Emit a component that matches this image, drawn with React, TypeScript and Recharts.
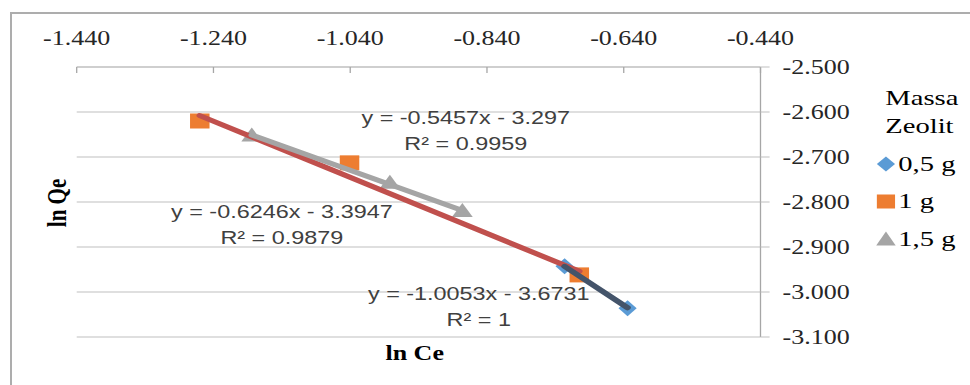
import React from 'react';
import { ScatterChart, Scatter, XAxis, YAxis, CartesianGrid, Legend, ReferenceDot, Customized } from 'recharts';

// ln Ce / ln Qe per zeolite mass
const ceHalf = [-0.7265, -0.6344];
const qeHalf = [-2.943, -3.036];
const ceOne = [-1.26, -1.041, -0.705];
const qeOne = [-2.62, -2.713, -2.962];
const ceOneHalf = [-1.184, -0.982, -0.876];
const qeOneHalf = [-2.652, -2.757, -2.82];

// trendline end points
const trendHalfX = [-0.7265, -0.6344];
const trendHalfY = [-2.943, -3.035];
const trendOneX = [-1.26, -0.705];
const trendOneY = [-2.608, -2.954];
const trendOneHalfX = [-1.184, -0.876];
const trendOneHalfY = [-2.651, -2.819];

const xTicks = [-1.44, -1.24, -1.04, -0.84, -0.64, -0.44];
const yTicks = [-3.1, -3.0, -2.9, -2.8, -2.7, -2.6, -2.5];
const seriesNames = ['0,5 g', '1 g', '1,5 g'];
const eqLines = [
  ['y = -0.5457x - 3.297', 'R² = 0.9959'],
  ['y = -0.6246x - 3.3947', 'R² = 0.9879'],
  ['y = -1.0053x - 3.6731', 'R² = 1'],
];
const eqAtX = [-0.871, -1.14, -0.852];
const eqAtY = [-2.613, -2.822, -3.004];

// the source picture is stretched sideways, so draw narrow and scale up
const STRETCH = 1.3;
const W = 746;
const H = 385;
const SERIF = "'Liberation Serif', 'Times New Roman', serif";
const SANS = "'Liberation Sans', Arial, sans-serif";

const BLUE = '#5B9BD5';
const ORANGE = '#ED7D31';
const GRAY = '#A5A5A5';

const zip = (xs: number[], ys: number[]) => xs.map((x, i) => ({ x, y: ys[i] }));

const Diamond = (p: any) => (
  <polygon points={`${p.cx},${p.cy - 8} ${p.cx + 7},${p.cy} ${p.cx},${p.cy + 8} ${p.cx - 7},${p.cy}`} fill={BLUE} />
);
const Square = (p: any) => <rect x={p.cx - 7.5} y={p.cy - 7.5} width={15} height={15} fill={ORANGE} />;
const Triangle = (p: any) => (
  <polygon points={`${p.cx},${p.cy - 8} ${p.cx + 8},${p.cy + 6} ${p.cx - 8},${p.cy + 6}`} fill={GRAY} />
);
const NoDot = () => <g />;

const XTick = ({ x, payload }: any) => (
  <text x={x} y={45} textAnchor="middle" fontFamily={SERIF} fontSize={20} fill="#262626">
    {payload.value.toFixed(3)}
  </text>
);

const YTick = ({ x, y, payload }: any) => (
  <text x={x} y={y + 7} textAnchor="start" fontFamily={SERIF} fontSize={20} fill="#262626">
    {payload.value.toFixed(3)}
  </text>
);

const EqLabel = ({ viewBox, lines }: any) => {
  if (!viewBox) return null;
  const cx = viewBox.x + (viewBox.width || 0) / 2;
  const cy = viewBox.y + (viewBox.height || 0) / 2;
  return (
    <g fontFamily={SANS} fontSize={18} fill="#404040" textAnchor="middle">
      <text x={cx} y={cy + 6}>{lines[0]}</text>
      <text x={cx} y={cy + 32}>{lines[1]}</text>
    </g>
  );
};

const AxisTitles = () => (
  <g fontFamily={SERIF} fontWeight="bold" fill="#000">
    <text x={0} y={0} fontSize={21} textAnchor="middle" transform="translate(51,203) rotate(-90)">ln Qe</text>
    <text x={319} y={360} fontSize={20} textAnchor="middle">ln Ce</text>
  </g>
);

const legendMarkers = [
  <polygon key="d" points="7.5,-0.5 14.5,7 7.5,14.5 0.5,7" fill={BLUE} />,
  <rect key="s" x={0.5} y={0} width={14} height={14} fill={ORANGE} />,
  <polygon key="t" points="7.5,-0.5 15,13.5 0,13.5" fill={GRAY} />,
];

const LegendBox = () => (
  <svg width={90} height={180} style={{ display: 'block', overflow: 'visible' }}>
    <g fontFamily={SERIF} fontSize={22} fill="#000">
      <text x={7} y={105 - 82}>Massa</text>
      <text x={7} y={133 - 82}>Zeolit</text>
      {seriesNames.map((name, i) => {
        const cy = 164 + i * 37.5 - 82;
        return (
          <g key={name}>
            <g transform={`translate(0,${cy - 7})`}>{legendMarkers[i]}</g>
            <text x={17} y={cy + 7}>{name}</text>
          </g>
        );
      })}
    </g>
  </svg>
);

export default function App() {
  return (
    <div style={{ position: 'absolute', left: 0, top: 0, width: 970, height: H, overflow: 'hidden', background: '#fff' }}>
      <div style={{ position: 'absolute', left: 10, top: 12, width: 1000, height: 400, border: '2px solid #ADADAD' }} />
      <div style={{ position: 'absolute', left: 0, top: 0, width: W, height: H, transform: `scaleX(${STRETCH})`, transformOrigin: '0 0' }}>
        <ScatterChart width={W} height={H} margin={{ top: 27, right: 81, bottom: 48, left: 59 }}>
          <CartesianGrid vertical={false} stroke="#BFBFBF" />
          <XAxis
            type="number"
            dataKey="x"
            orientation="top"
            domain={[-1.44, -0.44]}
            ticks={xTicks}
            allowDataOverflow
            height={40}
            tickSize={-6}
            tickMargin={28}
            axisLine={{ stroke: '#BFBFBF' }}
            tickLine={{ stroke: '#A6A6A6' }}
            tick={<XTick />}
          />
          <YAxis
            type="number"
            dataKey="y"
            orientation="right"
            domain={[-3.1, -2.5]}
            ticks={yTicks}
            allowDataOverflow
            width={80}
            tickSize={7}
            tickMargin={10}
            axisLine={{ stroke: '#A6A6A6' }}
            tickLine={{ stroke: '#BFBFBF' }}
            tick={<YTick />}
          />
          <Legend
            layout="vertical"
            align="center"
            verticalAlign="middle"
            content={<LegendBox />}
            wrapperStyle={{ left: 674, top: 82, width: 90 }}
          />
          <Scatter name={seriesNames[0]} data={zip(ceHalf, qeHalf)} shape={Diamond} isAnimationActive={false} />
          <Scatter name={seriesNames[1]} data={zip(ceOne, qeOne)} shape={Square} isAnimationActive={false} />
          <Scatter name={seriesNames[2]} data={zip(ceOneHalf, qeOneHalf)} shape={Triangle} isAnimationActive={false} />
          <Scatter
            data={zip(trendOneX, trendOneY)}
            shape={NoDot}
            line={{ stroke: '#C0504D', strokeWidth: 5, strokeLinecap: 'round' }}
            legendType="none"
            isAnimationActive={false}
          />
          <Scatter
            data={zip(trendOneHalfX, trendOneHalfY)}
            shape={NoDot}
            line={{ stroke: GRAY, strokeWidth: 5, strokeLinecap: 'round' }}
            legendType="none"
            isAnimationActive={false}
          />
          <Scatter
            data={zip(trendHalfX, trendHalfY)}
            shape={NoDot}
            line={{ stroke: '#44546A', strokeWidth: 5, strokeLinecap: 'round' }}
            legendType="none"
            isAnimationActive={false}
          />
          {eqLines.map((lines, i) => (
            <ReferenceDot
              key={i}
              x={eqAtX[i]}
              y={eqAtY[i]}
              r={0}
              fill="none"
              stroke="none"
              label={<EqLabel lines={lines} />}
            />
          ))}
          <Customized component={AxisTitles} />
        </ScatterChart>
      </div>
    </div>
  );
}
